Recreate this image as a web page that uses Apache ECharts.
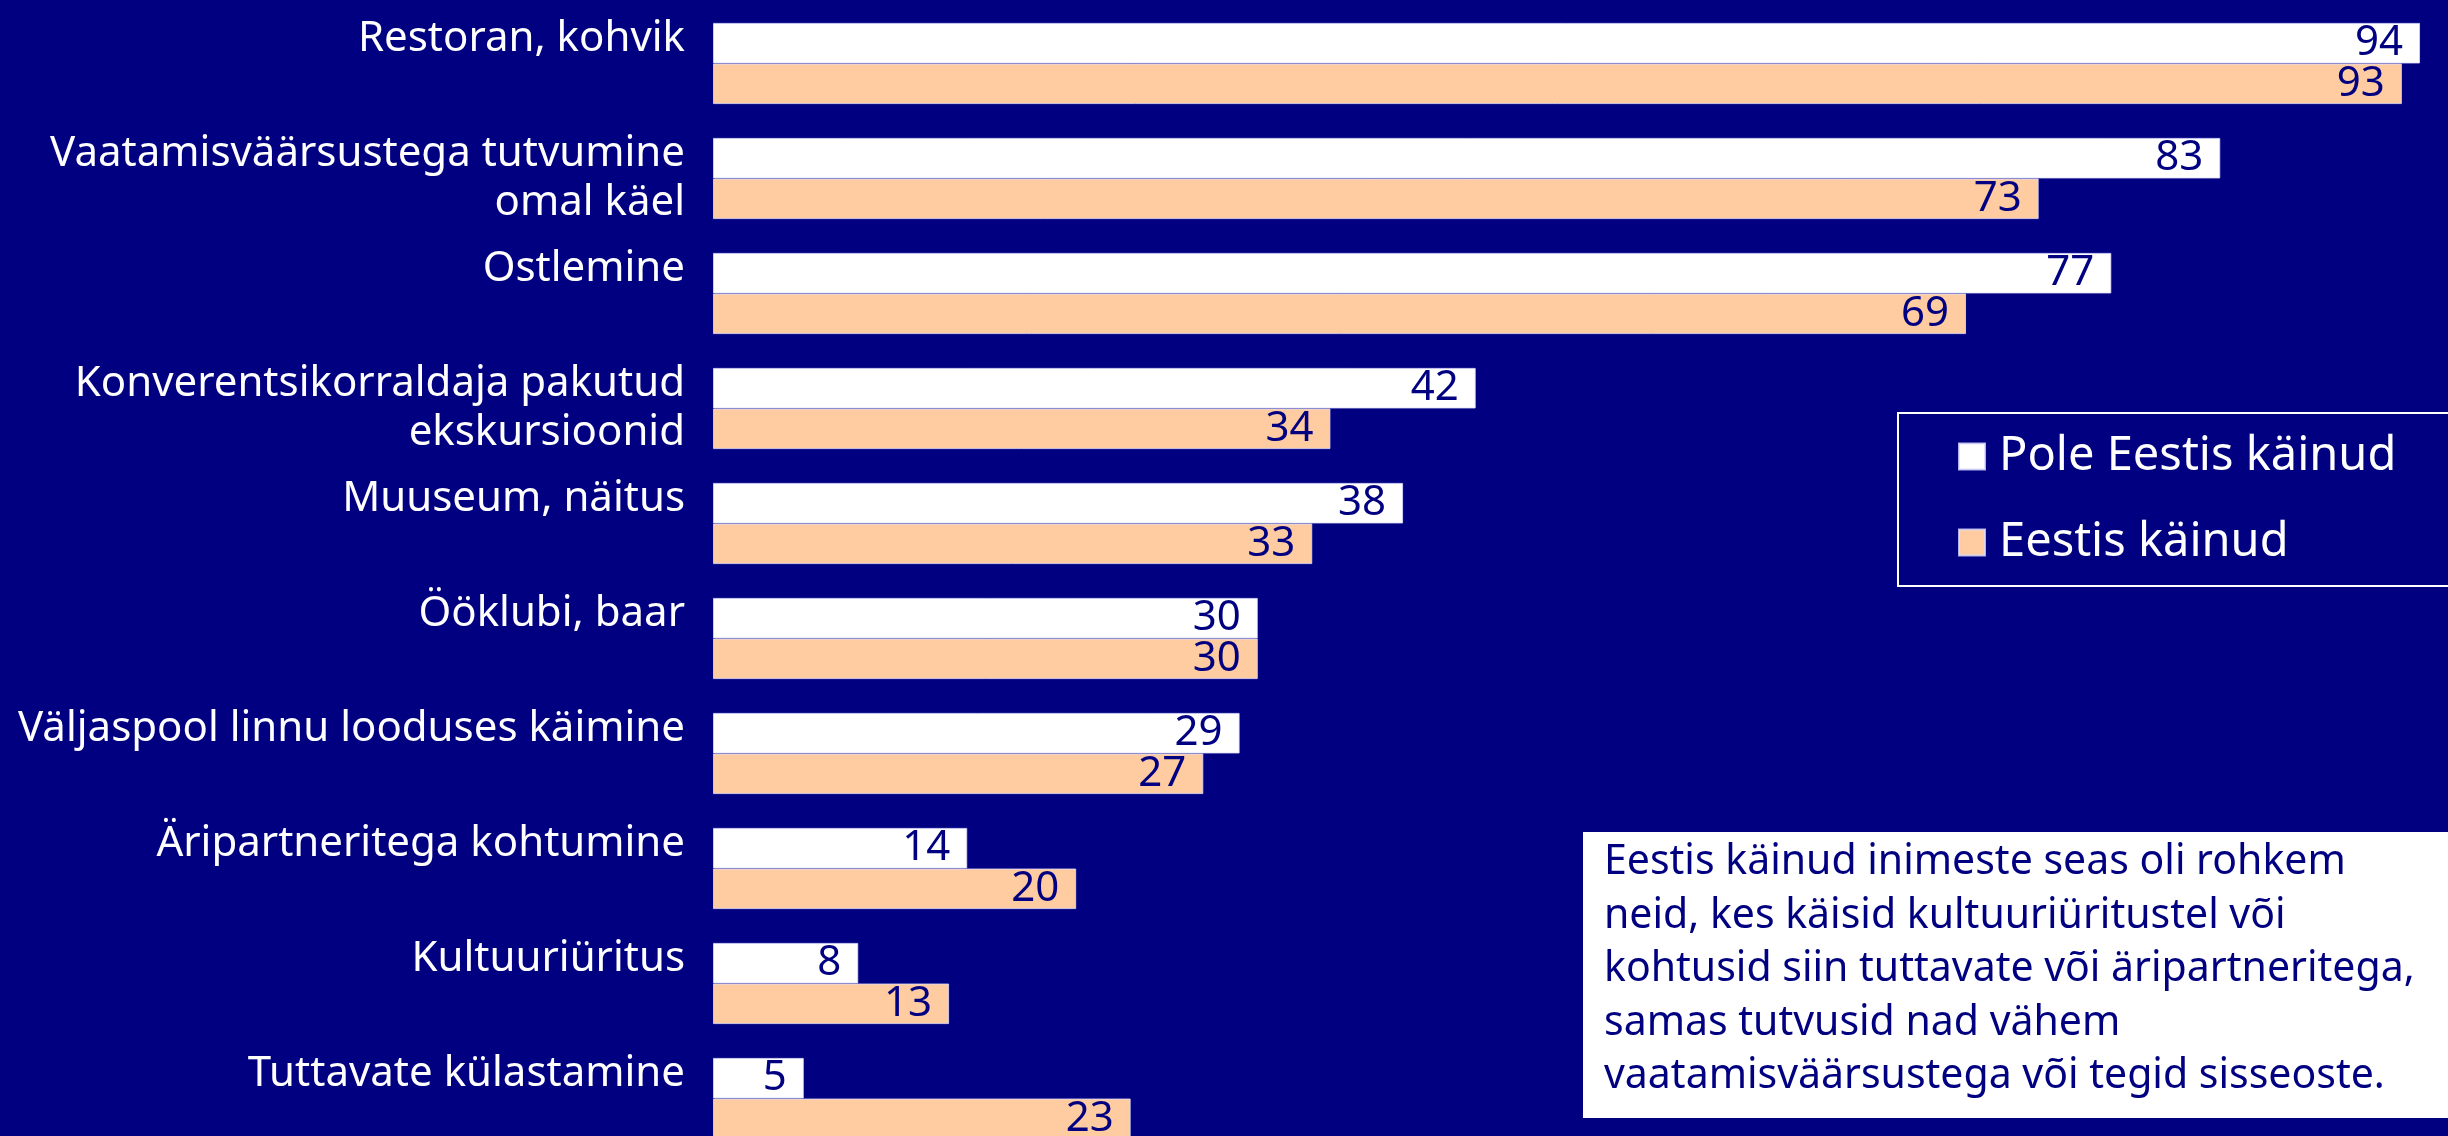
<!DOCTYPE html>
<html>
<head>
<meta charset="utf-8">
<script src="https://cdn.jsdelivr.net/npm/echarts@6/dist/echarts.min.js"></script>
<style>
  html, body { margin: 0; padding: 0; background: #000080; overflow: hidden; }
  /* chart area is a bit larger than the window: the last bar and the 100 mark fall outside */
  #main { width: 2529px; height: 1156px; }
</style>
</head>
<body>
<div id="main"></div>
<script>
const categories = [
  'Restoran, kohvik',
  'Vaatamisväärsustega tutvumine\nomal käel',
  'Ostlemine',
  'Konverentsikorraldaja pakutud\nekskursioonid',
  'Muuseum, näitus',
  'Ööklubi, baar',
  'Väljaspool linnu looduses käimine',
  'Äripartneritega kohtumine',
  'Kultuuriüritus',
  'Tuttavate külastamine'
];
const seriesNames = ['Pole Eestis käinud', 'Eestis käinud'];
const poleKainud = [94, 83, 77, 42, 38, 30, 29, 14, 8, 5];
const onKainud = [93, 73, 69, 34, 33, 30, 27, 20, 13, 23];
const noteLines = [
  'Eestis käinud inimeste seas oli rohkem',
  'neid, kes käisid kultuuriüritustel või',
  'kohtusid siin tuttavate või äripartneritega,',
  'samas tutvusid nad vähem',
  'vaatamisväärsustega või tegid sisseoste.'
];

const navy = '#000080';
const font = 'Noto Sans';

const chart = echarts.init(document.getElementById('main'));

const valueLabel = {
  show: true,
  position: 'insideRight',
  distance: 17,
  color: navy,
  fontFamily: font,
  fontSize: 42
};

const option = {
  backgroundColor: navy,
  animation: false,
  color: ['#ffffff', '#ffcba0'],
  grid: {
    left: 713,
    right: 0,
    top: 6,
    bottom: 0,
    containLabel: false
  },
  legend: {
    data: seriesNames,
    orient: 'vertical',
    left: 1898,
    top: 413,
    icon: 'rect',
    itemWidth: 26,
    itemHeight: 26,
    itemGap: 39,
    padding: [20, 120, 20, 60],
    borderColor: '#ffffff',
    borderWidth: 2,
    textStyle: {
      color: '#ffffff',
      fontFamily: font,
      fontSize: 47,
      lineHeight: 47,
      padding: [0, 0, 0, 9]
    }
  },
  xAxis: {
    type: 'value',
    min: 0,
    max: 100,
    show: false
  },
  yAxis: {
    type: 'category',
    data: categories,
    inverse: true,
    axisLine: { show: false },
    axisTick: { show: false },
    axisLabel: {
      color: '#ffffff',
      fontFamily: font,
      fontSize: 42,
      lineHeight: 49,
      margin: 28,
      align: 'right',
      padding: [0, 0, 12, 0],
      formatter: function (v) {
        return v.indexOf('\n') < 0 ? v + '\n' : v;
      }
    }
  },
  series: [{
    name: seriesNames[0],
    type: 'bar',
    data: poleKainud,
    barGap: '0%',
    barCategoryGap: '29.4%',
    itemStyle: { borderColor: 'rgba(220,220,255,0.8)', borderWidth: 1 },
    label: valueLabel
  }, {
    name: seriesNames[1],
    type: 'bar',
    data: onKainud,
    barGap: '0%',
    barCategoryGap: '29.4%',
    itemStyle: { borderColor: 'rgba(220,220,255,0.8)', borderWidth: 1 },
    label: valueLabel
  }],
  graphic: [{
    type: 'rect',
    left: 1583,
    top: 832,
    shape: { width: 900, height: 286 },
    style: { fill: '#ffffff' },
    z: 10
  }, {
    type: 'text',
    left: 1604,
    top: 836,
    style: {
      text: noteLines.join('\n'),
      fill: navy,
      font: '41px "Noto Sans"',
      lineHeight: 53.5
    },
    z: 11
  }]
};

chart.setOption(option);
</script>
</body>
</html>
